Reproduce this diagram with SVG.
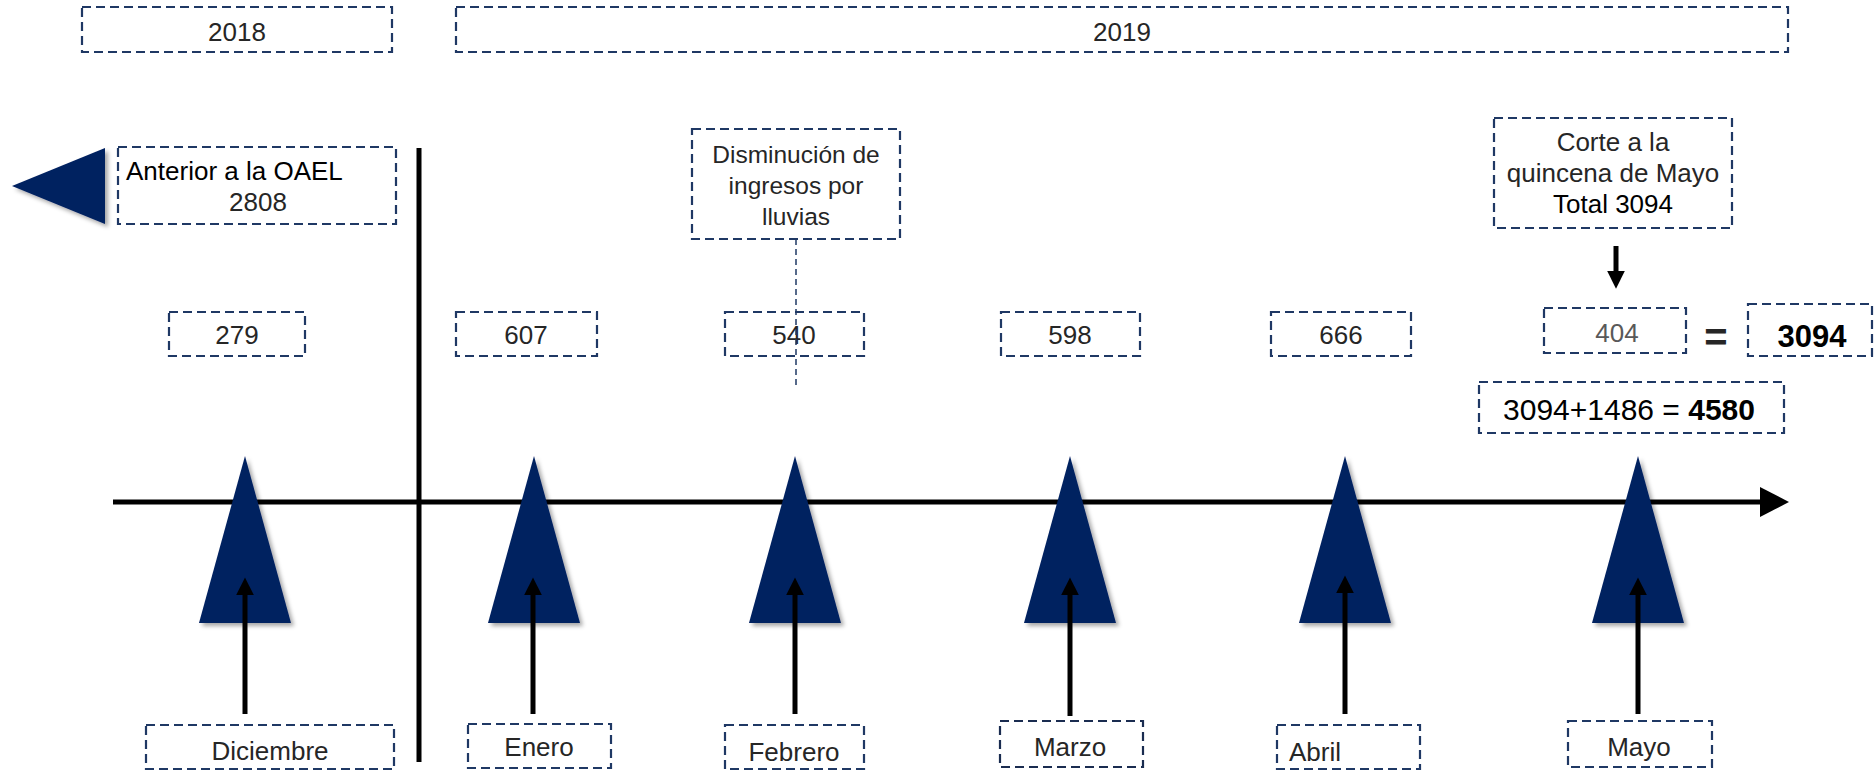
<svg xmlns="http://www.w3.org/2000/svg" width="1876" height="771" viewBox="0 0 1876 771">
<style>
  .box{fill:#ffffff;stroke:#1f3864;stroke-width:2.2;stroke-dasharray:9,5}
  .t{font-family:"Liberation Sans",Arial,sans-serif;font-size:26px;fill:#262626;text-anchor:middle}
  .tri{fill:#002060;filter:url(#sh)}
  .ax{stroke:#000;stroke-width:5;fill:none}
  .up{stroke:#000;stroke-width:5;fill:none;marker-end:url(#ah)}
</style>
<defs>
  <filter id="sh" x="-20%" y="-10%" width="150%" height="130%">
    <feDropShadow dx="3" dy="3" stdDeviation="2" flood-color="#000" flood-opacity="0.35"/>
  </filter>
  <marker id="ah" markerUnits="userSpaceOnUse" markerWidth="18" markerHeight="18" viewBox="0 0 16 16" refX="3" refY="8" orient="auto">
    <path d="M0,0 L16,8 L0,16 z" fill="#000"/>
  </marker>
</defs>

<g id="year2018"><rect class="box" x="82" y="7" width="310" height="45"/><text class="t" x="237" y="41">2018</text></g>
<g id="year2019"><rect class="box" x="456" y="7" width="1332" height="45"/><text class="t" x="1122" y="41">2019</text></g>

<g id="anterior">
  <polygon class="tri" points="12,186 105,148 105,224"/>
  <rect class="box" x="118" y="147" width="278" height="77"/>
  <text class="t" x="126" y="180" style="text-anchor:start;fill:#000">Anterior a la OAEL</text>
  <text class="t" x="258" y="211">2808</text>
</g>

<g id="disminucion">
  <rect class="box" x="692" y="129" width="208" height="110"/>
  <text class="t" x="796" y="163" style="font-size:24.5px">Disminución de</text>
  <text class="t" x="796" y="194" style="font-size:24.5px">ingresos por</text>
  <text class="t" x="796" y="225" style="font-size:24.5px">lluvias</text>
</g>

<g id="corte">
  <rect class="box" x="1494" y="118" width="238" height="110"/>
  <text class="t" x="1613" y="151">Corte a la</text>
  <text class="t" x="1613" y="182">quincena de Mayo</text>
  <text class="t" x="1613" y="213" style="fill:#000">Total 3094</text>
</g>

<g id="v279"><rect class="box" x="169" y="312" width="136" height="44"/><text class="t" x="237" y="344">279</text></g>
<g id="v607"><rect class="box" x="456" y="312" width="141" height="44"/><text class="t" x="526" y="344">607</text></g>
<g id="v540"><rect class="box" x="725" y="312" width="139" height="44"/><text class="t" x="794" y="344">540</text></g>
<g id="v598"><rect class="box" x="1001" y="312" width="139" height="44"/><text class="t" x="1070" y="344">598</text></g>
<g id="v666"><rect class="box" x="1271" y="312" width="140" height="44"/><text class="t" x="1341" y="344">666</text></g>
<g id="v404"><rect class="box" x="1544" y="308" width="142" height="45"/><text class="t" x="1617" y="342" style="fill:#595959">404</text></g>
<g id="equals"><text class="t" x="1716" y="351" style="font-size:40px;font-weight:bold;fill:#262626">=</text></g>
<g id="v3094"><rect class="box" x="1748" y="304" width="124" height="52"/><text class="t" x="1812" y="347" style="font-size:31px;font-weight:bold;fill:#000">3094</text></g>
<g id="total"><rect class="box" x="1479" y="382" width="305" height="51"/><text class="t" x="1629" y="420" style="font-size:30px;fill:#000">3094+1486 = <tspan font-weight="bold">4580</tspan></text></g>

<g id="connectors">
  <line class="ax" x1="113" y1="502" x2="1764" y2="502"/>
  <polygon points="1760,487 1789,502 1760,517" fill="#000"/>
  <line class="ax" x1="419" y1="148" x2="419" y2="762"/>
  <line x1="796" y1="239" x2="796" y2="388" stroke="#1f3864" stroke-width="1.5" stroke-dasharray="6,4"/>
  <line class="up" x1="1616" y1="246" x2="1616" y2="274"/>
</g>

<g id="triangles">
  <polygon class="tri" points="245,456 291,623 199,623"/>
  <polygon class="tri" points="534,456 580,623 488,623"/>
  <polygon class="tri" points="795,456 841,623 749,623"/>
  <polygon class="tri" points="1070,456 1116,623 1024,623"/>
  <polygon class="tri" points="1345,456 1391,623 1299,623"/>
  <polygon class="tri" points="1638,456 1684,623 1592,623"/>
</g>

<g id="month-arrows">
  <line class="up" x1="245" y1="714" x2="245" y2="592"/>
  <line class="up" x1="533" y1="714" x2="533" y2="592"/>
  <line class="up" x1="795" y1="714" x2="795" y2="592"/>
  <line class="up" x1="1070" y1="716" x2="1070" y2="592"/>
  <line class="up" x1="1345" y1="714" x2="1345" y2="590"/>
  <line class="up" x1="1638" y1="714" x2="1638" y2="592"/>
</g>

<g id="diciembre"><rect class="box" x="146" y="725" width="248" height="44"/><text class="t" x="270" y="760">Diciembre</text></g>
<g id="enero"><rect class="box" x="468" y="724" width="143" height="44"/><text class="t" x="539" y="756">Enero</text></g>
<g id="febrero"><rect class="box" x="725" y="725" width="139" height="44"/><text class="t" x="794" y="761">Febrero</text></g>
<g id="marzo"><rect class="box" x="1000" y="721" width="143" height="46" style="stroke:#1a2c50"/><text class="t" x="1070" y="756">Marzo</text></g>
<g id="abril"><rect class="box" x="1277" y="725" width="143" height="44"/><text class="t" x="1315" y="761">Abril</text></g>
<g id="mayo"><rect class="box" x="1568" y="721" width="144" height="46"/><text class="t" x="1639" y="756">Mayo</text></g>
</svg>
